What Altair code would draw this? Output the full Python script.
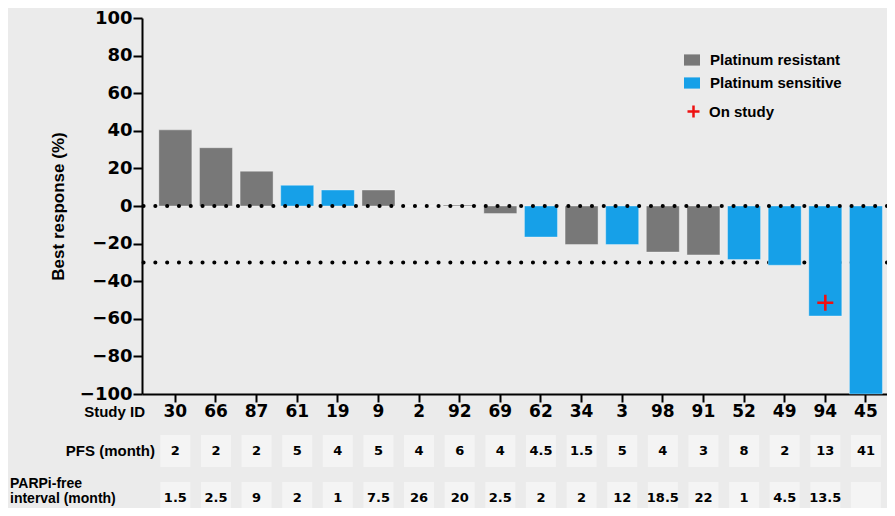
import altair as alt
import pandas as pd

study_ids = ["30", "66", "87", "61", "19", "9", "2", "92", "69", "62", "34", "3", "98", "91", "52", "49", "94", "45"]
best_response = [40.5, 31, 18.5, 11, 8.5, 8.5, 0, 0.5, -4, -16.5, -20.5, -20.5, -24.5, -26, -28.5, -31.5, -58.5, -100]
platinum = ["Platinum resistant", "Platinum resistant", "Platinum resistant", "Platinum sensitive",
            "Platinum sensitive", "Platinum resistant", "Platinum resistant", "Platinum resistant",
            "Platinum resistant", "Platinum sensitive", "Platinum resistant", "Platinum sensitive",
            "Platinum resistant", "Platinum resistant", "Platinum sensitive", "Platinum sensitive",
            "Platinum sensitive", "Platinum sensitive"]
pfs_month = ["2", "2", "2", "5", "4", "5", "4", "6", "4", "4.5", "1.5", "5", "4", "3", "8", "2", "13", "41"]
parpi_free = ["1.5", "2.5", "9", "2", "1", "7.5", "26", "20", "2.5", "2", "2", "12", "18.5", "22", "1", "4.5", "13.5", ""]
on_study_ids = ["94"]
on_study_values = [-51.5]
ref_lines = [0, -30]
y_ticks = [-100, -80, -60, -40, -20, 0, 20, 40, 60, 80, 100]

df = pd.DataFrame({"study": study_ids, "resp": best_response, "group": platinum,
                   "pfs": pfs_month, "parpi": parpi_free})
df_on = pd.DataFrame({"study": on_study_ids, "resp": on_study_values, "label": ["On study"] * len(on_study_ids)})

BOLD = "bold"
NUMFONT = "DejaVu Sans"
TXTFONT = "Liberation Sans"
GREY = "#787878"
BLUE = "#16a0e8"
BOX = "#f4f4f4"
PLUS = "M-1,0H1M0,-1V1"
RECT = "M-1,-0.7H1V0.7H-1Z"

xenc = alt.X("study:N", sort=study_ids,
             scale=alt.Scale(paddingInner=0.2, paddingOuter=0.27, align=0.78),
             axis=alt.Axis(title=None, labelAngle=0, labelFont=NUMFONT, labelFontSize=17,
                           labelFontWeight=BOLD, labelColor="black", labelPadding=1,
                           tickSize=8, tickWidth=2, tickColor="black",
                           domainWidth=2, domainColor="black", grid=False))
yscale = alt.Scale(domain=[-100, 100], nice=False)
yaxis = alt.Axis(title="Best response (%)", values=y_ticks, format="d",
                 labelFont=NUMFONT, labelFontSize=18, labelFontWeight=BOLD, labelColor="black",
                 labelPadding=1, tickSize=9, tickWidth=2, tickColor="black",
                 domainWidth=2, domainColor="black", grid=False,
                 titleFont=TXTFONT, titleFontSize=17, titleFontWeight=BOLD, titleColor="black",
                 titlePadding=12)

base = alt.Chart(df)

dotted = dict(strokeDash=[0.1, 11.7], strokeCap="round", strokeWidth=4, color="black")

line_m30 = alt.Chart(pd.DataFrame({"v": [ref_lines[1]]})).mark_rule(**dotted).encode(
    y=alt.Y("v:Q", scale=yscale, axis=yaxis))

bars = base.mark_bar(size=33, strokeWidth=1, strokeOpacity=0.35, stroke="white").encode(
    x=xenc,
    y=alt.Y("resp:Q", scale=yscale, axis=yaxis),
    color=alt.Color("group:N",
                    scale=alt.Scale(domain=["Platinum resistant", "Platinum sensitive"], range=[GREY, BLUE]),
                    legend=alt.Legend(title=None, orient="none", legendX=542, legendY=34,
                                      symbolType=RECT, symbolSize=256, symbolStrokeWidth=0,
                                      labelFont=TXTFONT, labelFontSize=15, labelFontWeight=BOLD,
                                      labelColor="black", labelOffset=10, rowPadding=7)))

line_0 = alt.Chart(pd.DataFrame({"v": [ref_lines[0]]})).mark_rule(**dotted).encode(
    y=alt.Y("v:Q", scale=yscale, axis=yaxis))

plus = alt.Chart(df_on).mark_point(filled=False, size=256, strokeWidth=2.6, color="#ee1111", opacity=1).encode(
    x=xenc,
    y=alt.Y("resp:Q", scale=yscale, axis=yaxis),
    shape=alt.Shape("label:N", scale=alt.Scale(domain=["On study"], range=[PLUS]),
                    legend=alt.Legend(title=None, orient="none", legendX=544, legendY=86,
                                      symbolSize=144, symbolStrokeColor="#ee1111", symbolStrokeWidth=2.5,
                                      symbolFillColor="transparent",
                                      labelFont=TXTFONT, labelFontSize=15, labelFontWeight=BOLD,
                                      labelColor="black", labelOffset=8)))

pfs_box = base.mark_bar(size=30, color=BOX).encode(x=xenc, y=alt.value(417), y2=alt.value(449))
pfs_txt = base.mark_text(font=NUMFONT, fontSize=13, fontWeight=BOLD, color="black", baseline="middle").encode(
    x=xenc, y=alt.value(433), text="pfs:N")
par_box = base.mark_bar(size=30, color=BOX).encode(x=xenc, y=alt.value(464), y2=alt.value(505))
par_txt = base.mark_text(font=NUMFONT, fontSize=13, fontWeight=BOLD, color="black", baseline="middle").encode(
    x=xenc, y=alt.value(480), text="parpi:N")

row_labels = pd.DataFrame({
    "t": ["Study ID", "PFS (month)", "PARPi-free", "interval (month)"],
    "x": [3, 13, -132, -132],
    "y": [394, 433, 466, 481],
})
lab_right = alt.Chart(row_labels.iloc[:2]).mark_text(
    font=TXTFONT, fontSize=15, fontWeight=BOLD, color="black", align="right", baseline="middle").encode(
    x=alt.X("x:Q", scale=None), y=alt.Y("y:Q", scale=None), text="t:N")
lab_left = alt.Chart(row_labels.iloc[2:]).mark_text(
    font=TXTFONT, fontSize=14, fontWeight=BOLD, color="black", align="left", baseline="middle").encode(
    x=alt.X("x:Q", scale=None), y=alt.Y("y:Q", scale=None), text="t:N")

chart = alt.layer(line_m30, bars, line_0, plus, pfs_box, pfs_txt, par_box, par_txt, lab_right, lab_left).properties(
    width=745, height=376,
    autosize=alt.AutoSizeParams(type="none"),
    padding={"left": 134, "top": 10, "right": 0, "bottom": 114},
    background="#ebebeb",
).configure_view(stroke=None)

chart.save("out.html", embed_options={"renderer": "svg", "actions": False})
